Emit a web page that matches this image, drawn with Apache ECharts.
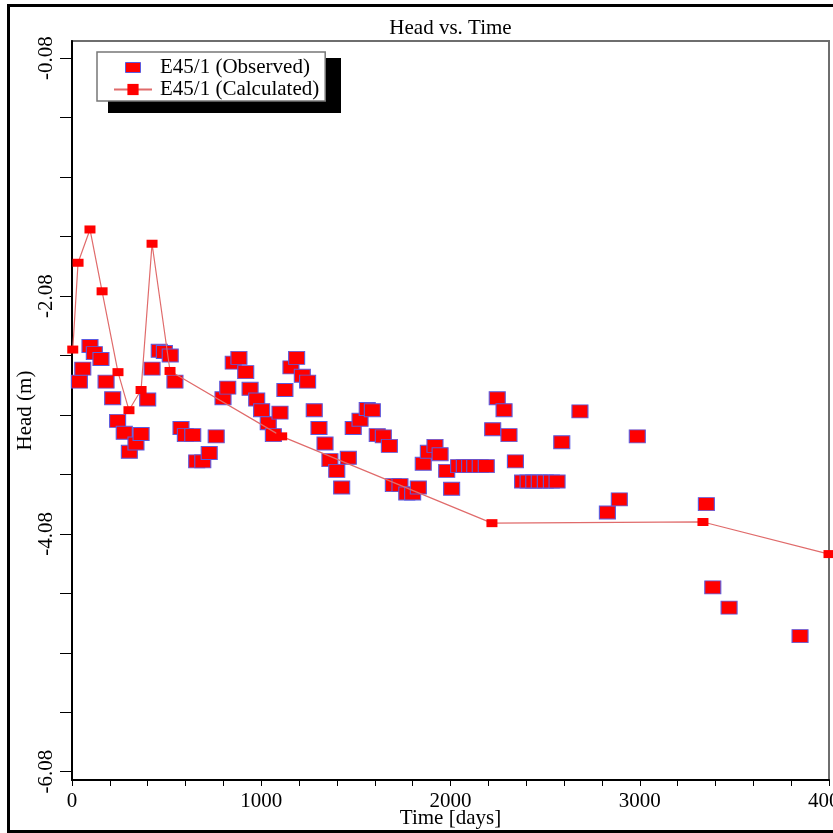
<!DOCTYPE html>
<html><head><meta charset="utf-8">
<script src="https://cdn.jsdelivr.net/npm/echarts@6/dist/echarts.min.js"></script>
<style>html,body{margin:0;padding:0;background:#fff}#c{width:833px;height:833px}</style>
</head><body><div id="c"></div>
<script>
const obsTime = [39,57,95,118,153,180,215,241,276,303,338,365,400,423,461,488,519,544,576,599,638,659,691,725,762,798,823,852,882,918,941,976,1002,1037,1064,1099,1125,1157,1187,1217,1245,1280,1305,1337,1363,1399,1425,1460,1486,1522,1560,1587,1613,1645,1677,1698,1733,1769,1800,1830,1856,1883,1918,1945,1980,2006,2043,2073,2101,2128,2157,2189,2223,2247,2283,2309,2343,2381,2410,2440,2469,2501,2533,2563,2588,2684,2829,2892,2987,3352,3386,3472,3847];
const obsHead = [-2.80,-2.69,-2.50,-2.56,-2.61,-2.80,-2.94,-3.13,-3.23,-3.39,-3.32,-3.24,-2.95,-2.69,-2.54,-2.55,-2.58,-2.80,-3.19,-3.25,-3.25,-3.47,-3.47,-3.40,-3.26,-2.94,-2.85,-2.64,-2.60,-2.72,-2.86,-2.95,-3.04,-3.15,-3.25,-3.06,-2.87,-2.68,-2.60,-2.75,-2.80,-3.04,-3.19,-3.32,-3.46,-3.55,-3.69,-3.44,-3.19,-3.12,-3.03,-3.04,-3.25,-3.26,-3.34,-3.67,-3.67,-3.74,-3.74,-3.69,-3.49,-3.39,-3.34,-3.41,-3.55,-3.70,-3.51,-3.51,-3.51,-3.51,-3.51,-3.51,-3.20,-2.94,-3.04,-3.25,-3.47,-3.64,-3.64,-3.64,-3.64,-3.64,-3.64,-3.64,-3.31,-3.05,-3.90,-3.79,-3.26,-3.83,-4.53,-4.70,-4.94];
const calcTime = [4,32,95,159,243,301,365,423,518,1108,2219,3334,4000];
const calcHead = [-2.53,-1.80,-1.52,-2.04,-2.72,-3.04,-2.87,-1.64,-2.71,-3.26,-3.99,-3.98,-4.25];
const xTickValues = [0,200,400,600,800,1000,1200,1400,1600,1800,2000,2200,2400,2600,2800,3000,3200,3400,3600,3800,4000];
const xLabelValues = [0,1000,2000,3000,4000];
const yTickValues = [-6.08,-5.58,-5.08,-4.58,-4.08,-3.58,-3.08,-2.58,-2.08,-1.58,-1.08,-0.58,-0.08];
const yLabelValues = [-6.08,-4.08,-2.08,-0.08];
const seriesNames = ['E45/1 (Observed)','E45/1 (Calculated)'];

const F = "'Liberation Serif','Times New Roman',serif";
const chart = echarts.init(document.getElementById('c'), null, {renderer:'canvas'});
chart.setOption({
  animation:false,
  backgroundColor:'#fff',
  title:{text:'Head vs. Time', left:450.5, textAlign:'center', top:18, padding:0,
    textStyle:{fontFamily:F, fontSize:21, fontWeight:'normal', color:'#000'}},
  grid:{left:72, right:4, top:41, bottom:53, show:true, borderColor:'#6e6e6e', borderWidth:2,
    containLabel:false, outerBoundsMode:'none'},
  legend:{
    orient:'vertical', left:97, top:52, padding:[5,6,1,16], itemGap:1,
    itemWidth:38, itemHeight:14, selectedMode:false,
    backgroundColor:'#fff', borderColor:'#777', borderWidth:1.5,
    textStyle:{fontFamily:F, fontSize:21, color:'#000', padding:[0,0,0,3]},
    data:[
      {name:seriesNames[0], icon:'path://M0,0M0,2h15v10h-15zM15,14', itemStyle:{borderColor:'#5b5be0', borderWidth:1, opacity:1}},
      {name:seriesNames[1], itemStyle:{borderWidth:0}}
    ]
  },
  graphic:[
    {type:'rect', silent:true, z:0, shape:{x:8.5, y:5.5, width:840, height:826}, style:{fill:null, stroke:'#000', lineWidth:3}},
    {type:'rect', silent:true, z:3, shape:{x:108, y:58, width:233, height:55}, style:{fill:'#000'}}
  ],
  xAxis:{
    type:'value', min:0, max:4000,
    name:'Time [days]', nameLocation:'middle', nameGap:28, nameMoveOverlap:false,
    nameTextStyle:{fontFamily:F, fontSize:21, color:'#000'},
    axisLine:{show:true, onZero:false, lineStyle:{color:'#000', width:2}},
    axisTick:{show:true, length:6, customValues:xTickValues, lineStyle:{color:'#000', width:1}},
    axisLabel:{customValues:xLabelValues, margin:11, fontFamily:F, fontSize:21, color:'#000',
      formatter:v=>String(v)},
    splitLine:{show:false}
  },
  yAxis:{
    type:'value', min:-6.15, max:0.065,
    name:'Head (m)', nameLocation:'middle', nameRotate:90, nameGap:36, nameMoveOverlap:false,
    nameTextStyle:{fontFamily:F, fontSize:21, color:'#000'},
    axisLine:{show:true, onZero:false, lineStyle:{color:'#000', width:2}},
    axisTick:{show:true, length:12, customValues:yTickValues, lineStyle:{color:'#000', width:1}},
    axisLabel:{customValues:yLabelValues, rotate:90, margin:15, fontFamily:F, fontSize:21, color:'#000',
      formatter:v=>Number(v).toFixed(2)},
    splitLine:{show:false}
  },
  series:[
    {type:'scatter', name:seriesNames[0], z:2,
      data:obsTime.map((t,i)=>[t,obsHead[i]]),
      symbol:'rect', symbolSize:[16,13],
      itemStyle:{color:'#ff0000', borderColor:'#5b5be0', borderWidth:1, opacity:1}},
    {type:'line', name:seriesNames[1], z:3,
      data:calcTime.map((t,i)=>[t,calcHead[i]]),
      symbol:'rect', symbolSize:[11,8], showSymbol:true, showAllSymbol:true,
      lineStyle:{color:'#e06b6b', width:1.2},
      itemStyle:{color:'#ff0000'}}
  ]
});
</script></body></html>
